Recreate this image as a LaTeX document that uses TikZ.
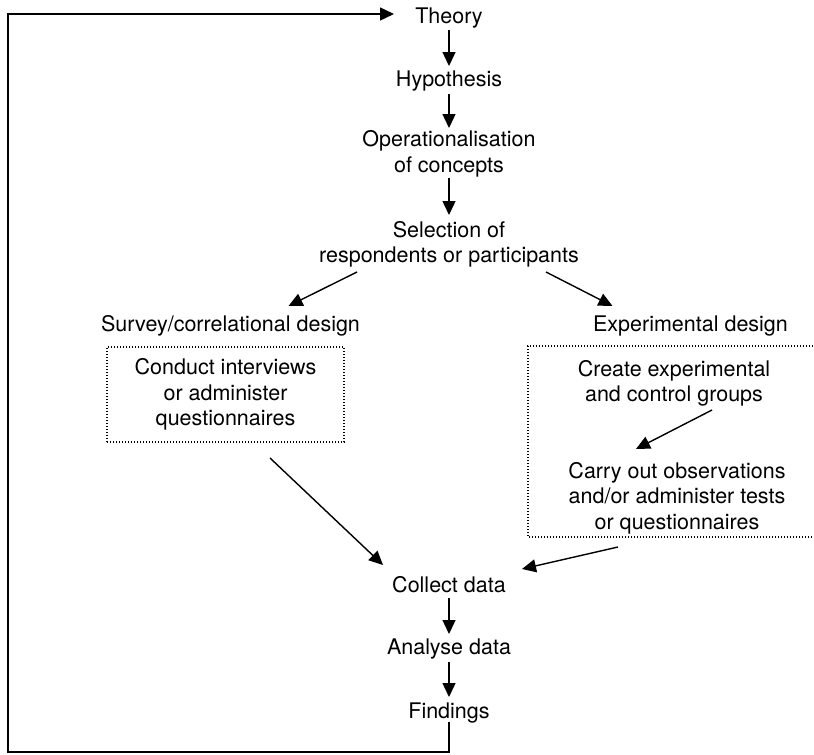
\documentclass[tikz,border=0pt]{standalone}
\usepackage{fontspec}
\setmainfont{TeX Gyre Heros}
\usetikzlibrary{arrows.meta,calc}
\begin{document}
\begin{tikzpicture}[x=1pt,y=-1pt,
  lbl/.style={align=center,inner sep=2pt,font=\fontsize{21.5}{25.5}\selectfont},
  arr/.style={line width=1.4pt,-{Triangle[length=14pt,width=13pt]}},
  dotbox/.style={line width=1.3pt,dash pattern=on 1.3pt off 1.7pt}]
\useasboundingbox (0,0) rectangle (814,755);

% main chain
\node[lbl] (theory)   at (449,18)    {Theory};
\node[lbl] (hyp)      at (449,81)    {Hypothesis};
\node[lbl] (oper)     at (449,154)   {Operationalisation\\of concepts};
\node[lbl] (sel)      at (449,244.5) {Selection of\\respondents or participants};
\node[lbl] (survey)   at (230.5,326) {Survey/correlational design};
\node[lbl] (exper)    at (690.5,326) {Experimental design};
\node[lbl,draw,dotbox,minimum width=237pt,minimum height=95pt] (conduct) at (225.5,394.5)
  {Conduct interviews\\or administer\\questionnaires};
\node[lbl] (create)   at (674,383.5) {Create experimental\\and control groups};
\node[lbl] (carry)    at (677,498)   {Carry out observations\\and/or administer tests\\or questionnaires};
\node[lbl] (collect)  at (449,585)   {Collect data};
\node[lbl] (analyse)  at (449,649)   {Analyse data};
\node[lbl] (findings) at (449,713)   {Findings};

% experimental design box, running off the right edge
\draw[dotbox] (816,346) -- (528,346) -- (528,537) -- (816,537);

% connectors
\draw[arr] ($(theory)+(0,12)$) -- ($(hyp)+(0,-15)$);
\draw[arr] ($(hyp)+(0,13)$) -- ($(oper)+(0,-26)$);
\draw[arr] ($(oper)+(0,24)$) -- ($(sel)+(0,-29.5)$);
\draw[arr] ($(sel)+(-92,27.5)$) -- ($(survey)+(58,-20)$);
\draw[arr] ($(sel)+(97,27.5)$) -- ($(exper)+(-78,-20)$);
\draw[arr] ($(create)+(38,26.5)$) -- ($(carry)+(-41,-49)$);
\draw[arr] ($(conduct)+(44.5,63.5)$) -- ($(collect)+(-66,-20)$);
\draw[arr] ($(carry)+(-59,49)$) -- ($(collect)+(73,-16)$);
\draw[arr] ($(collect)+(0,13)$) -- ($(analyse)+(0,-15)$);
\draw[arr] ($(analyse)+(0,13)$) -- ($(findings)+(0,-16)$);

% feedback loop back to theory
\coordinate (loopcorner) at (8,752);
\draw[arr] ($(findings)+(0,9)$) |- (loopcorner) |- ($(theory)+(-55,-4)$);
\end{tikzpicture}
\end{document}
